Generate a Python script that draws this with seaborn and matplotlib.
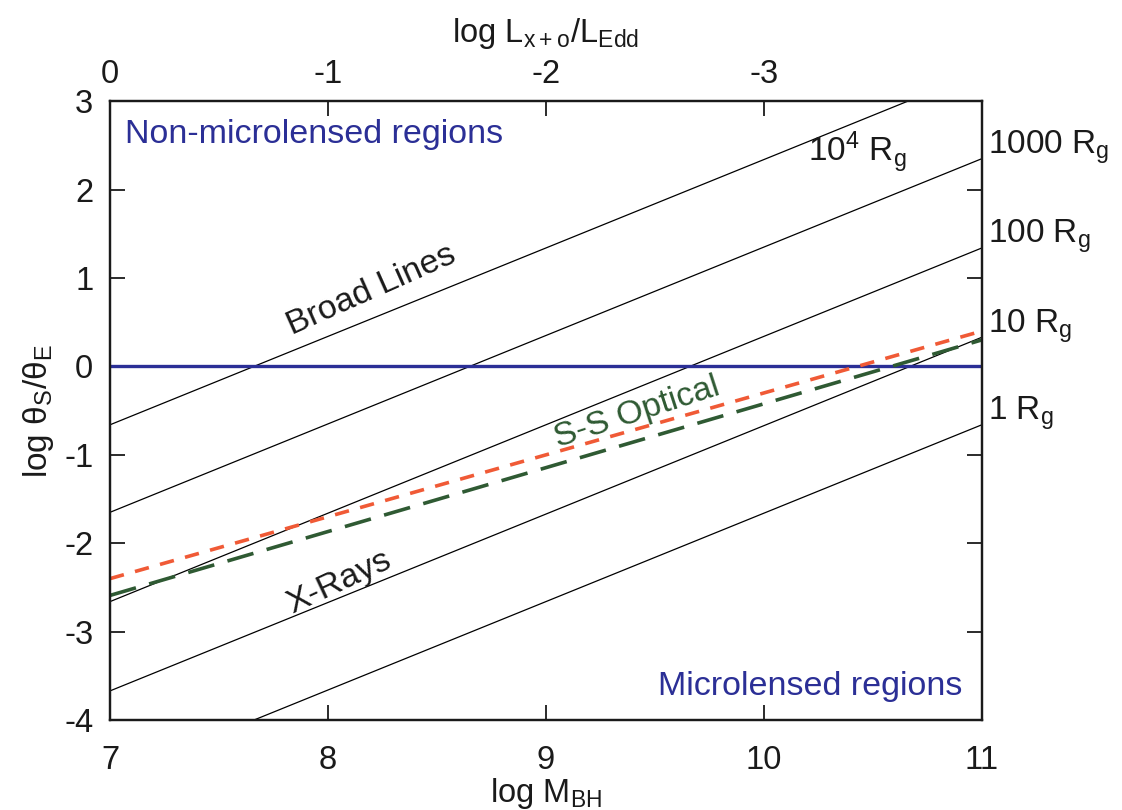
import numpy as np
import pandas as pd
import matplotlib
matplotlib.use("Agg")
import matplotlib.pyplot as plt
import seaborn as sns

# ---- data ----
x_ends = [7, 11]
rg_names = ["1 R$_g$", "10 R$_g$", "100 R$_g$", "1000 R$_g$", "10$^4$ R$_g$"]
rg_start = [-4.66, -3.67, -2.66, -1.65, -0.66]   # y at log M = 7
rg_end = [-0.66, 0.33, 1.34, 2.35, 3.34]         # y at log M = 11
boundary_y = [0.0, 0.0]
xray_y = [-2.40, 0.40]     # red short-dashed
optical_y = [-2.59, 0.30]  # green long-dashed
top_ticks = [7, 8, 9, 10]
top_labels = ["0", "-1", "-2", "-3"]
bottom_ticks = [7, 8, 9, 10, 11]
left_ticks = [-4, -3, -2, -1, 0, 1, 2, 3]

sns.set_theme(style="ticks")
plt.rcParams["font.family"] = ["Liberation Sans", "DejaVu Sans"]
plt.rcParams["mathtext.default"] = "regular"
plt.rcParams["axes.unicode_minus"] = False

BLUE = "#2b2f96"
RED = "#f05a36"
GREEN = "#2f5a33"
INK = "#1a1a1a"

fig = plt.figure(figsize=(11.22, 8.10), dpi=100)
ax = fig.add_axes([0.098, 0.111, 0.777, 0.764])

for name, s, e in zip(rg_names, rg_start, rg_end):
    df = pd.DataFrame({"x": x_ends, "y": [s, e]})
    sns.lineplot(data=df, x="x", y="y", ax=ax, color="black", lw=0.9)

sns.lineplot(x=x_ends, y=boundary_y, ax=ax, color=BLUE, lw=2.4)
ax.plot(x_ends, xray_y, color=RED, lw=2.6, dashes=(4, 3.2))
ax.plot(x_ends, optical_y, color=GREEN, lw=2.6, dashes=(7.5, 3.8))

ax.set_xlim(7, 11)
ax.set_ylim(-4, 3)
ax.set_xticks(bottom_ticks)
ax.set_xticklabels([str(t) for t in bottom_ticks])
ax.set_yticks(left_ticks)
ax.set_yticklabels([str(t) for t in left_ticks])
ax.tick_params(axis="both", direction="in", length=11, width=1.3, labelsize=23.5,
               right=True, labelright=False, pad=12, colors=INK)
ax.tick_params(axis="x", pad=18)
for sp in ax.spines.values():
    sp.set_linewidth(1.6)
    sp.set_color(INK)

ax.set_xlabel("log M$_{BH}$", fontsize=23.5, labelpad=0, color=INK)
ax.set_ylabel("log θ$_S$/θ$_E$", fontsize=24, labelpad=6, color=INK)

ax2 = ax.twiny()
ax2.set_xlim(7, 11)
ax2.set_xticks(top_ticks)
ax2.set_xticklabels(top_labels)
ax2.tick_params(axis="x", direction="in", length=11, width=1.3, labelsize=23.5, pad=8, colors=INK)
ax2.set_xlabel("log L$_{x+o}$/L$_{Edd}$", fontsize=23.5, labelpad=12, color=INK)
for sp in ax2.spines.values():
    sp.set_linewidth(1.6)
    sp.set_color(INK)

# annotations
ax.text(7.07, 2.62, "Non-microlensed regions", color=BLUE, fontsize=24.5, ha="left", va="center")
ax.text(10.91, -3.62, "Microlensed regions", color=BLUE, fontsize=24.5, ha="right", va="center")
ax.text(8.2, 0.86, "Broad Lines", fontsize=24.5, rotation=24, ha="center", va="center", color=INK)
ax.text(8.05, -2.44, "X-Rays", fontsize=24.5, rotation=25, ha="center", va="center", color=INK)
ax.text(9.42, -0.52, "S-S Optical", fontsize=24.5, rotation=18, ha="center", va="center", color=GREEN)
ax.text(10.43, 2.42, rg_names[4], fontsize=24, ha="center", va="center", color=INK)
for name, e in zip(rg_names[:4], rg_end[:4]):
    ax.text(11.03, e + 0.13, name, fontsize=24, ha="left", va="center", clip_on=False, color=INK)

fig.savefig("out.png", dpi=100)
